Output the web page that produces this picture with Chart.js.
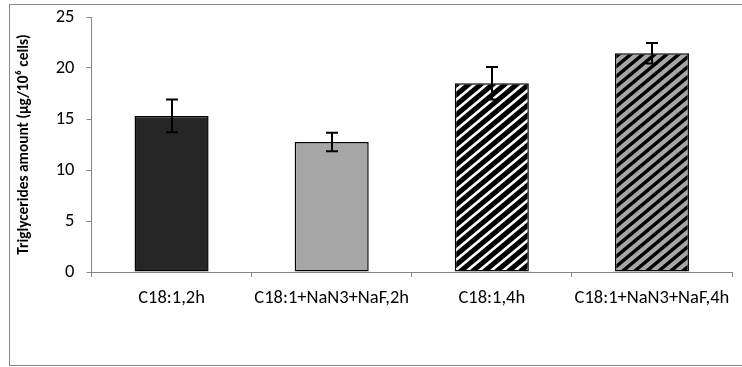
<!DOCTYPE html>
<html>
<head>
<meta charset="utf-8">
<script src="https://cdn.jsdelivr.net/npm/chart.js@4.4.1/dist/chart.umd.min.js"></script>
<style>
  html, body { margin: 0; padding: 0; background: #fff; }
  #wrap { width: 742px; height: 367px; position: relative; }
</style>
</head>
<body>
<div id="wrap"><canvas id="c" width="742" height="367"></canvas></div>
<script>
const categories = ["C18:1,2h", "C18:1+NaN3+NaF,2h", "C18:1,4h", "C18:1+NaN3+NaF,4h"];
const values = [15.3, 12.75, 18.5, 21.45];
const errors = [1.6, 0.9, 1.6, 1.0];
const yTicks = [0, 5, 10, 15, 20, 25];
const yTitle = "Triglycerides amount (µg/10\u2076 cells)";

const FONT = 'Carlito, "Liberation Sans Narrow", "Liberation Sans", Arial, sans-serif';

function makePattern(bg, fg, lw) {
  const W = 12, H = 10;
  const c = document.createElement('canvas');
  c.width = W; c.height = H;
  const g = c.getContext('2d');
  g.fillStyle = bg; g.fillRect(0, 0, W, H);
  g.strokeStyle = fg; g.lineWidth = lw;
  for (let k = -1; k <= 1; k++) {
    g.beginPath();
    g.moveTo(k * W - W, 2 * H);
    g.lineTo(k * W + 2 * W, -H);
    g.stroke();
  }
  return document.getElementById('c').getContext('2d').createPattern(c, 'repeat');
}

const fills = [
  '#262626',
  '#a6a6a6',
  makePattern('#000000', '#ffffff', 2.6),
  makePattern('#a6a6a6', '#000000', 3.4)
];

const frame = {
  id: 'frame',
  beforeDraw(chart) {
    const ctx = chart.ctx;
    ctx.save();
    ctx.fillStyle = '#fff';
    ctx.fillRect(0, 0, chart.width, chart.height);
    ctx.strokeStyle = '#888888';
    ctx.lineWidth = 1;
    ctx.strokeRect(9.5, 4.5, 760, 361);
    ctx.restore();
  }
};

const errorBars = {
  id: 'errorBars',
  afterDatasetsDraw(chart) {
    const ctx = chart.ctx;
    const xs = chart.scales.x, ys = chart.scales.y;
    ctx.save();
    ctx.strokeStyle = '#000';
    ctx.lineWidth = 2;
    values.forEach((v, i) => {
      const x = Math.round(xs.getPixelForValue(i));
      const yt = ys.getPixelForValue(v + errors[i]);
      const yb = ys.getPixelForValue(v - errors[i]);
      ctx.beginPath();
      ctx.moveTo(x, yt); ctx.lineTo(x, yb);
      ctx.moveTo(x - 6, yt); ctx.lineTo(x + 6, yt);
      ctx.moveTo(x - 6, yb); ctx.lineTo(x + 6, yb);
      ctx.stroke();
    });
    ctx.restore();
  }
};

new Chart(document.getElementById('c'), {
  type: 'bar',
  data: {
    labels: categories,
    datasets: [{
      data: values,
      backgroundColor: fills,
      borderColor: '#000',
      borderWidth: 1.5,
      borderSkipped: false,
      categoryPercentage: 1.0,
      barPercentage: 0.4625
    }]
  },
  options: {
    responsive: false,
    animation: false,
    devicePixelRatio: 1,
    layout: { padding: { left: 10, top: 17, right: 10, bottom: 0 } },
    plugins: { legend: { display: false }, tooltip: { enabled: false } },
    scales: {
      x: {
        z: 1,
        grid: { display: true, drawOnChartArea: false, drawTicks: true, tickLength: 5, color: '#868686', offset: true },
        border: { display: true, color: '#868686', width: 1 },
        ticks: { color: '#000', font: { family: FONT, size: 18.5 }, padding: 10, maxRotation: 0, autoSkip: false },
        afterFit(s) { s.height = 95; s.paddingLeft = 0; s.paddingRight = 0; }
      },
      y: {
        min: 0, max: 25,
        afterBuildTicks(s) { s.ticks = yTicks.map(v => ({ value: v })); },
        grid: { display: true, drawOnChartArea: false, drawTicks: true, tickLength: 5, color: '#868686' },
        border: { display: true, color: '#868686', width: 1 },
        ticks: { color: '#000', font: { family: FONT, size: 18.5 }, padding: 12 },
        title: { display: true, text: yTitle, color: '#000', font: { family: FONT, size: 15.3, weight: 'bold' }, padding: { top: 4.5, bottom: 0 } },
        afterFit(s) { s.width = 81.5; s.paddingTop = 0; s.paddingBottom = 0; }
      }
    }
  },
  plugins: [frame, errorBars]
});
</script>
</body>
</html>
